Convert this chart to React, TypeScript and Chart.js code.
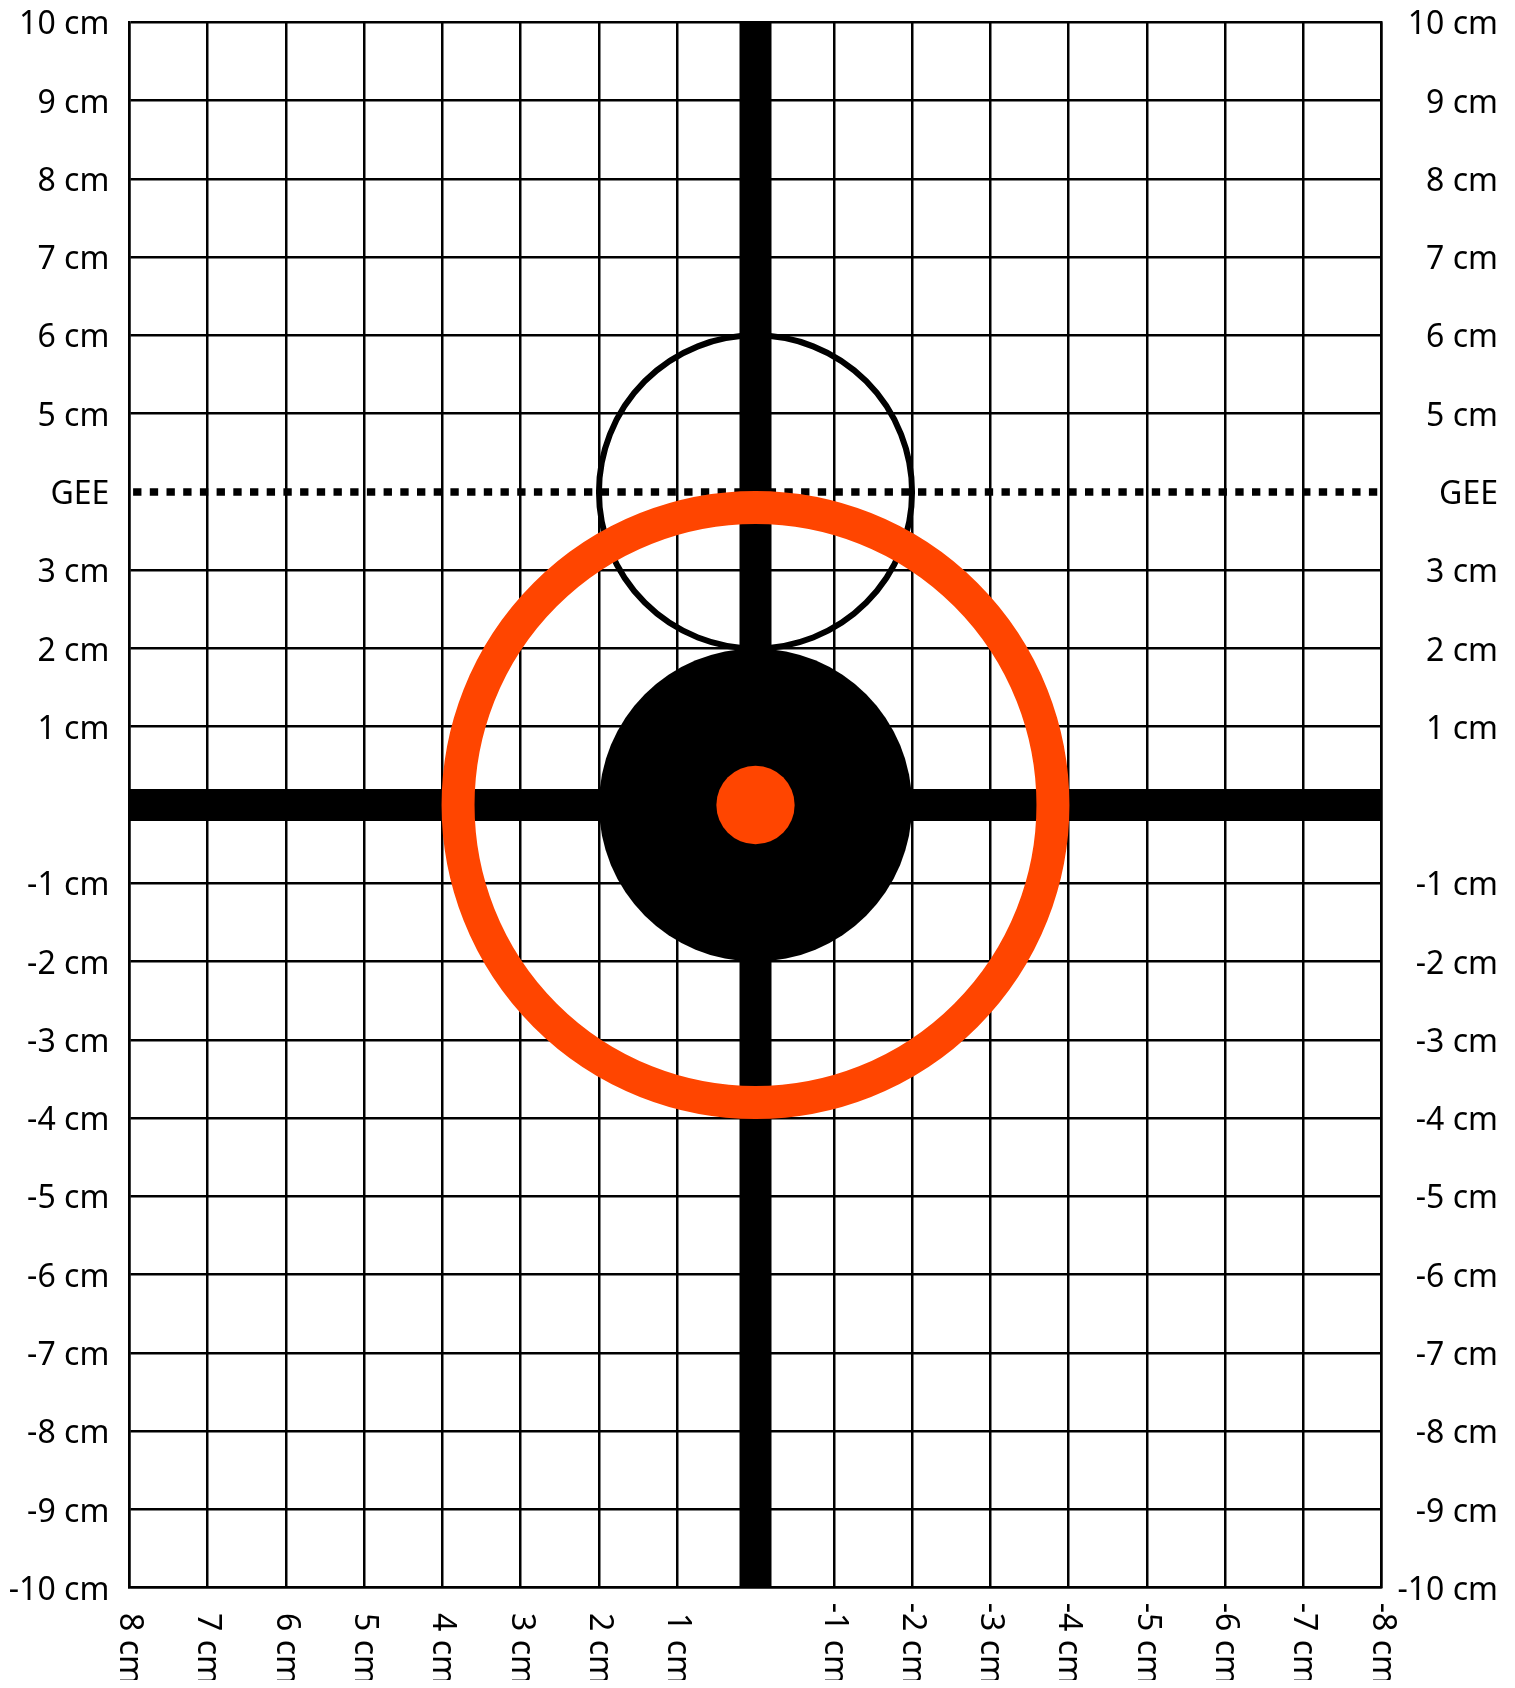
import React, { useEffect, useRef } from "react";
import { Chart, registerables } from "chart.js";

Chart.register(...registerables);

// ---------- data ----------
const xTickValues = [8, 7, 6, 5, 4, 3, 2, 1, 0, -1, -2, -3, -4, -5, -6, -7, -8];
const xTickLabels = ["8 cm", "7 cm", "6 cm", "5 cm", "4 cm", "3 cm", "2 cm", "1 cm", "", "-1 cm", "-2 cm", "-3 cm", "-4 cm", "-5 cm", "-6 cm", "-7 cm", "-8 cm"];
const yTickValues = [10, 9, 8, 7, 6, 5, 4, 3, 2, 1, 0, -1, -2, -3, -4, -5, -6, -7, -8, -9, -10];
const yTickLabels = ["10 cm", "9 cm", "8 cm", "7 cm", "6 cm", "5 cm", "GEE", "3 cm", "2 cm", "1 cm", "", "-1 cm", "-2 cm", "-3 cm", "-4 cm", "-5 cm", "-6 cm", "-7 cm", "-8 cm", "-9 cm", "-10 cm"];

const crossHX = [8, -8];
const crossHY = [0, 0];
const crossVX = [0, 0];
const crossVY = [-10, 10];
const geeLineX = [8, -8];
const geeLineY = [4, 4];

const circleNames = ["GEE circle", "Bullseye", "Ring", "Center"];
const circleX = [0, 0, 0, 0];
const circleY = [4, 0, 0, 0];
const circleRadiusCm = [2, 2, 3.8, 0.5];

// ---------- styles ----------
const FONT = "'Noto Sans', 'Open Sans', sans-serif";
const FONT_SIZE = 32;
const GRID_W = 2.5;
const ORANGE = "#FF4500";

const toPts = (xs: number[], ys: number[]) => xs.map((x, i) => ({ x, y: ys[i] }));

const radiusPx = (chart: any, r: number) => {
  const s = chart.scales.x;
  if (!s) return 0;
  return Math.abs(s.getPixelForValue(r) - s.getPixelForValue(0));
};

const yLabel = (v: number) => {
  const i = yTickValues.indexOf(Number(v));
  return i >= 0 ? yTickLabels[i] : "";
};

// the horizontal grid line is replaced by the dotted GEE line
const yGridColor = (c: any) =>
  c.tick && geeLineY.includes(c.tick.value) ? "rgba(0,0,0,0)" : "#000";

const xLabelPlugin = {
  id: "rotatedXLabels",
  afterDraw(chart: any) {
    const { ctx } = chart;
    const xs = chart.scales.x;
    ctx.save();
    ctx.font = `${FONT_SIZE}px ${FONT}`;
    ctx.fillStyle = "#000";
    ctx.textAlign = "right";
    ctx.textBaseline = "middle";
    const endY = xs.bottom - 3;
    xTickValues.forEach((v, i) => {
      const label = xTickLabels[i];
      if (!label) return;
      const px = xs.getPixelForValue(v);
      ctx.save();
      ctx.translate(px, endY);
      ctx.rotate(Math.PI / 2);
      ctx.fillText(label, 0, 0);
      ctx.restore();
    });
    ctx.restore();
  },
};

export default function App() {
  const ref = useRef<HTMLCanvasElement | null>(null);

  useEffect(() => {
    if (!ref.current) return;
    const chart = new Chart(ref.current, {
      type: "scatter",
      data: {
        datasets: [
          {
            label: circleNames[3],
            data: [{ x: circleX[3], y: circleY[3] }],
            pointRadius: (c: any) => radiusPx(c.chart, circleRadiusCm[3]),
            pointBackgroundColor: ORANGE,
            pointBorderWidth: 0,
            order: 0,
          },
          {
            label: circleNames[2],
            data: [{ x: circleX[2], y: circleY[2] }],
            pointRadius: (c: any) => radiusPx(c.chart, circleRadiusCm[2]),
            pointBackgroundColor: "rgba(0,0,0,0)",
            pointBorderColor: ORANGE,
            pointBorderWidth: 33,
            order: 1,
          },
          {
            label: "GEE",
            data: toPts(geeLineX, geeLineY),
            showLine: true,
            borderColor: "#000",
            borderWidth: 7.5,
            borderDash: [8.35, 8.35],
            borderDashOffset: 12.9,
            borderCapStyle: "butt",
            pointRadius: 0,
            order: 2,
          },
          {
            label: circleNames[1],
            data: [{ x: circleX[1], y: circleY[1] }],
            pointRadius: (c: any) => radiusPx(c.chart, circleRadiusCm[1]),
            pointBackgroundColor: "#000",
            pointBorderWidth: 0,
            order: 3,
          },
          {
            label: circleNames[0],
            data: [{ x: circleX[0], y: circleY[0] }],
            pointRadius: (c: any) => radiusPx(c.chart, circleRadiusCm[0]),
            pointBackgroundColor: "rgba(0,0,0,0)",
            pointBorderColor: "#000",
            pointBorderWidth: 6,
            order: 4,
          },
          {
            label: "vertical",
            data: toPts(crossVX, crossVY),
            showLine: true,
            borderColor: "#000",
            borderWidth: 32,
            borderCapStyle: "butt",
            pointRadius: 0,
            order: 5,
          },
          {
            label: "horizontal",
            data: toPts(crossHX, crossHY),
            showLine: true,
            borderColor: "#000",
            borderWidth: 32,
            borderCapStyle: "butt",
            pointRadius: 0,
            order: 6,
          },
        ] as any,
      },
      options: {
        responsive: false,
        animation: false,
        devicePixelRatio: 1,
        events: [],
        layout: { padding: { top: 14.3, right: 9, bottom: 0, left: 0 } },
        plugins: { legend: { display: false }, tooltip: { enabled: false } },
        elements: { point: { hoverRadius: 0 } },
        scales: {
          x: {
            type: "linear",
            position: "bottom",
            reverse: true,
            min: -8,
            max: 8,
            ticks: { stepSize: 1, display: false },
            grid: { color: "#000", lineWidth: GRID_W, drawTicks: false },
            border: { color: "#000", width: GRID_W },
            afterFit: (s: any) => {
              s.height = 100.3;
              s.paddingLeft = 0;
              s.paddingRight = 0;
            },
          },
          y: {
            type: "linear",
            position: "left",
            min: -10,
            max: 10,
            ticks: {
              stepSize: 1,
              autoSkip: false,
              padding: 20,
              labelOffset: 3,
              color: "#000",
              font: { family: FONT, size: FONT_SIZE },
              callback: (v: any) => yLabel(v),
            },
            grid: { color: yGridColor, lineWidth: GRID_W, drawTicks: false },
            border: { color: "#000", width: GRID_W },
            afterFit: (s: any) => {
              s.width = 121.3;
              s.paddingTop = 0;
              s.paddingBottom = 0;
            },
          },
          y2: {
            type: "linear",
            axis: "y",
            position: "right",
            min: -10,
            max: 10,
            ticks: {
              stepSize: 1,
              autoSkip: false,
              crossAlign: "far",
              labelOffset: 3,
              color: "#000",
              font: { family: FONT, size: FONT_SIZE },
              callback: (v: any) => yLabel(v),
            },
            grid: { display: false, drawTicks: false },
            border: { color: "#000", width: GRID_W },
            afterFit: (s: any) => {
              s.width = 116.3;
              s.paddingTop = 0;
              s.paddingBottom = 0;
            },
          },
        },
      } as any,
      plugins: [xLabelPlugin],
    });
    return () => chart.destroy();
  }, []);

  return (
    <div style={{ width: 1499, height: 1680, marginBottom: -8 }}>
      <canvas ref={ref} width={1499} height={1680} style={{ display: "block" }} />
    </div>
  );
}
